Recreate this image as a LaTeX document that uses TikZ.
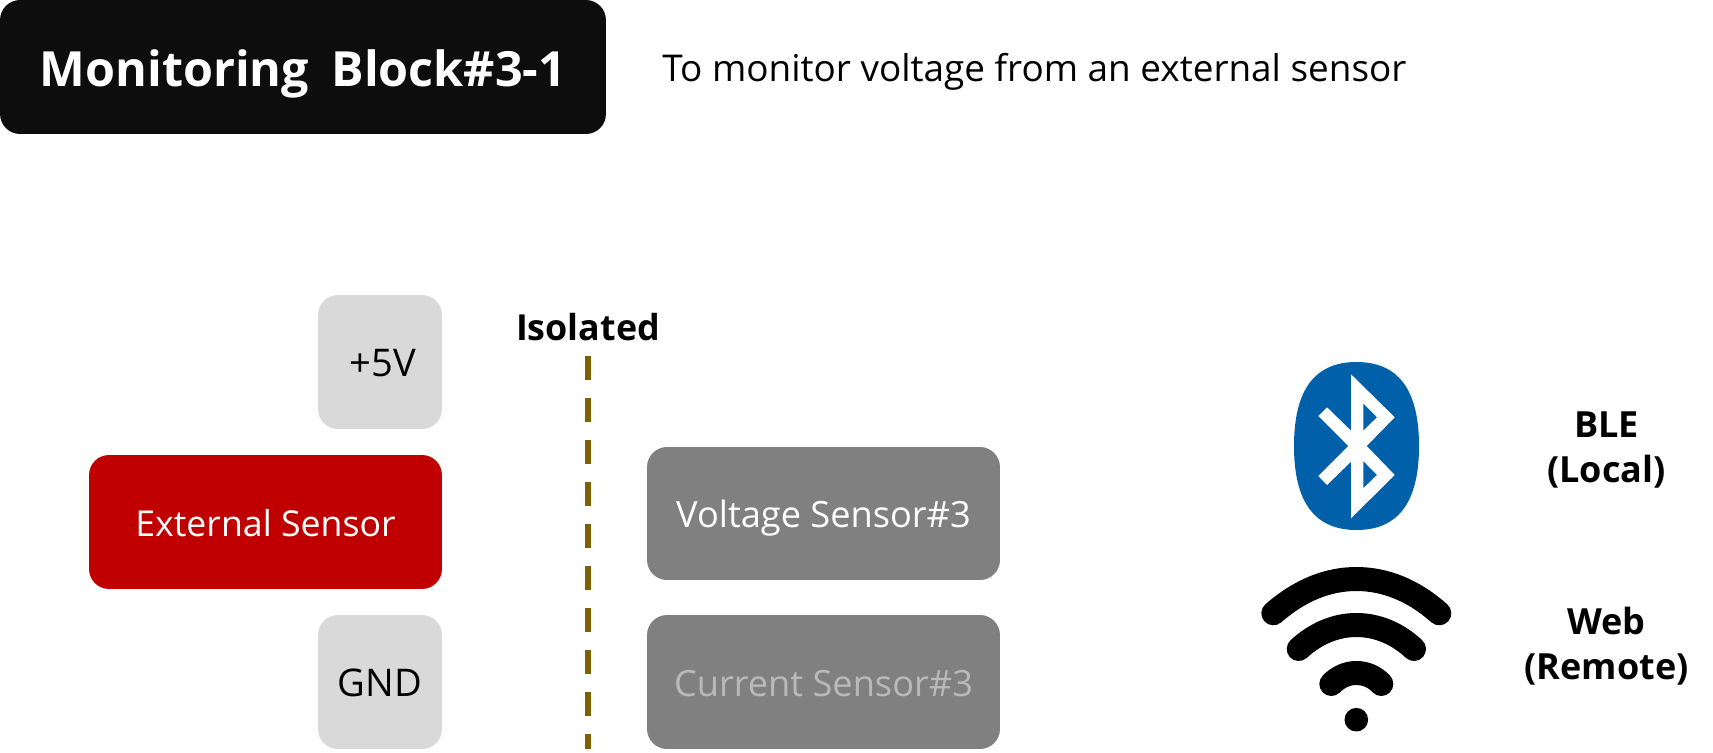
\documentclass[tikz,border=0pt]{standalone}
\usepackage{fontspec}
\setmainfont{Open Sans}
\usepackage{xcolor}
\usetikzlibrary{positioning}
\definecolor{titleblack}{RGB}{13,13,13}
\definecolor{railgray}{RGB}{217,217,217}
\definecolor{sensorred}{RGB}{192,0,0}
\definecolor{sensorgray}{RGB}{128,128,128}
\definecolor{mutedtext}{RGB}{185,185,185}
\definecolor{isoline}{RGB}{127,96,0}
\definecolor{bleblue}{RGB}{0,96,169}
\tikzset{
  blockbox/.style={rounded corners=0.4cm, inner sep=0pt, text height=16pt, text depth=0pt, align=center},
  railbox/.style={blockbox, fill=railgray, text=black, minimum width=2.48cm, minimum height=2.68cm, font=\fontsize{21.7}{26}\selectfont},
  sensorbox/.style={blockbox, fill=sensorgray, text=white, minimum width=7.06cm, minimum height=2.66cm, font=\fontsize{20.6}{25}\selectfont},
  sidelabel/.style={align=center, inner sep=0pt, font=\fontsize{20.5}{25.5}\selectfont\bfseries},
  wifiarc/.style={line width=0.48cm, line cap=round}
}
\begin{document}
\begin{tikzpicture}[x=0.02cm, y=-0.02cm]
\useasboundingbox (0,0) rectangle (1713,753);

%% ── HEADER ───────────────────────────────────────────────────────────────
\node[blockbox, fill=titleblack, text=white, text height=22pt, minimum width=12.12cm, minimum height=2.68cm,
      font=\fontsize{27.6}{33}\selectfont\bfseries] (title) at (303,67) {Monitoring\hspace{0.2em} Block\#3-1};
\node[inner sep=0pt, anchor=west, font=\fontsize{21}{25}\selectfont] (purpose) at (662,72)
  {To monitor voltage from an external sensor};

%% ── LEFT SIDE: external sensor ───────────────────────────────────────────
\node[railbox] (plusfive) at (380,362) {\kern3pt +5V};
\node[blockbox, fill=sensorred, text=white, minimum width=7.06cm, minimum height=2.68cm,
      font=\fontsize{20.3}{25}\selectfont] (external) at (265.5,522) {External Sensor};
\node[railbox] (gnd) at (380,682) {GND};

%% ── ISOLATION LINE ───────────────────────────────────────────────────────
\node[inner sep=0pt, font=\fontsize{20.4}{25}\selectfont\bfseries] (isolated) at (588,327) {Isolated};
\coordinate (isotop) at (588,356);
\coordinate (isobot) at (588,749);
\draw[isoline, line width=0.12cm, dash pattern=on 0.48cm off 0.36cm] (isotop) -- (isobot);

%% ── RIGHT SIDE: sensors ──────────────────────────────────────────────────
\node[sensorbox] (voltage) at (823.5,513.5) {Voltage Sensor\#3};
\node[sensorbox, text=mutedtext, minimum height=2.68cm] (current) at (823.5,682) {Current Sensor\#3};

%% ── BLE ICON ─────────────────────────────────────────────────────────────
\fill[bleblue] (1356.5,362) .. controls (1402,362) and (1419,395) .. (1419,446)
  .. controls (1419,497) and (1402,530) .. (1356.5,530)
  .. controls (1311,530) and (1294,497) .. (1294,446)
  .. controls (1294,395) and (1311,362) .. cycle;
% Rune, with its two triangles left open
\fill[white, even odd rule]
  (1351,374.3) -- (1394.7,417.3) -- (1366.7,446) -- (1394.7,475) -- (1351,518.3)
  -- (1351,461.7) -- (1327,485) -- (1318.3,476) -- (1348.3,446) -- (1318.3,416)
  -- (1327,407.3) -- (1351,430.7) -- cycle
  (1363.3,403.3) -- (1377,417.3) -- (1363.3,430.7) -- cycle
  (1363.3,461) -- (1377,475) -- (1363.3,488.3) -- cycle;
\node[sidelabel] (ble) at (1606.5,450) {BLE\\(Local)};

%% ── WIFI ICON ────────────────────────────────────────────────────────────
\draw[wifiarc] (1273.3,613.3) .. controls (1300,590) and (1328,579) .. (1356.3,579)
  .. controls (1385,579) and (1413,590) .. (1439.3,613.3);
\draw[wifiarc] (1298.7,649) .. controls (1315,634) and (1335,625) .. (1356.3,625)
  .. controls (1378,625) and (1398,634) .. (1414,649);
\draw[wifiarc] (1331.3,684) .. controls (1338,677) and (1347,673) .. (1356.3,673)
  .. controls (1366,673) and (1375,677) .. (1381.3,684);
\fill (1356.3,719.7) circle (11.8);
\node[sidelabel] (web) at (1606.5,646) {Web\\(Remote)};
\end{tikzpicture}
\end{document}
